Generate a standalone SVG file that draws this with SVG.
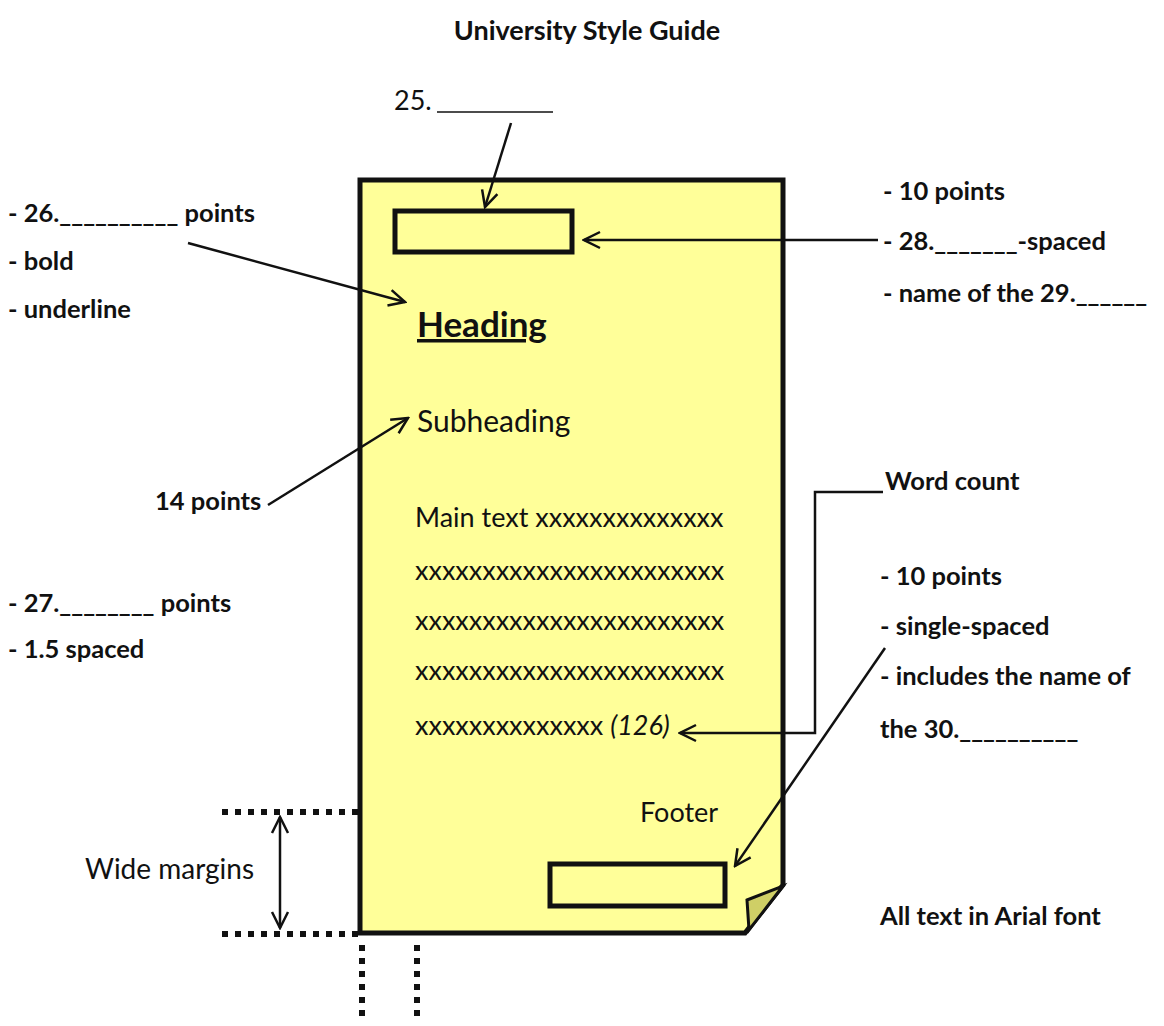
<svg xmlns="http://www.w3.org/2000/svg" width="1164" height="1026" viewBox="0 0 1164 1026">
<style>
text{font-family:Lato,"Open Sans","Liberation Sans",sans-serif;fill:#111}
.b{font-weight:bold;font-size:25.5px}
.n{font-size:27px}
.ln{stroke:#111;stroke-width:2.5;fill:none}
.box{fill:#ffff99;stroke:#111;stroke-width:5}
.dot{stroke:#111;stroke-width:6;stroke-dasharray:6 7;fill:none}
</style>
<defs>
<marker id="ah" viewBox="0 0 20 20" refX="18" refY="10" markerWidth="20" markerHeight="20" markerUnits="userSpaceOnUse" orient="auto-start-reverse">
<path d="M2,2 L18,10 L2,18" fill="none" stroke="#111" stroke-width="2.5"/>
</marker>
</defs>
<text x="587" y="40" text-anchor="middle" style="font-weight:bold;font-size:27px">University Style Guide</text>
<g id="page">
<path class="box" d="M360,180 H783 V885 L745,933 H360 Z"/>
<path d="M747,900 L783,886 L749,930 Z" fill="#cfcf66" stroke="#111" stroke-width="3"/>
</g>
<g id="header-box"><rect class="box" x="395" y="211" width="177" height="41"/></g>
<g id="footer-box"><rect class="box" x="550" y="864" width="175" height="42"/></g>
<g id="label-25"><text x="394" y="110" class="n">25.</text><line x1="437" y1="112" x2="553" y2="112" stroke="#111" stroke-width="1.5"/></g>
<g id="heading"><text x="417" y="337" style="font-weight:bold;font-size:35px;text-decoration:underline">Heading</text></g>
<g id="subheading"><text x="417" y="432" style="font-size:30px">Subheading</text></g>
<g id="main-text">
<text x="415" y="527" class="n">Main text xxxxxxxxxxxxxx</text>
<text x="415" y="580" class="n">xxxxxxxxxxxxxxxxxxxxxxx</text>
<text x="415" y="630" class="n">xxxxxxxxxxxxxxxxxxxxxxx</text>
<text x="415" y="680" class="n">xxxxxxxxxxxxxxxxxxxxxxx</text>
<text x="415" y="735" class="n">xxxxxxxxxxxxxx <tspan font-style="italic">(126)</tspan></text>
</g>
<g id="footer-label"><text x="640" y="822" class="n">Footer</text></g>
<g id="label-26">
<text x="8" y="222" class="b">- 26.__________ points</text>
<text x="8" y="270" class="b">- bold</text>
<text x="8" y="318" class="b">- underline</text>
</g>
<g id="label-28">
<text x="883" y="200" class="b">- 10 points</text>
<text x="883" y="250" class="b">- 28._______-spaced</text>
<text x="883" y="302" class="b">- name of the 29.______</text>
</g>
<g id="label-14"><text x="155" y="510" class="b">14 points</text></g>
<g id="label-wordcount"><text x="885" y="490" class="b">Word count</text></g>
<g id="label-27">
<text x="8" y="612" class="b">- 27.________ points</text>
<text x="8" y="658" class="b">-  1.5 spaced</text>
</g>
<g id="label-footer">
<text x="880" y="585" class="b">- 10 points</text>
<text x="880" y="635" class="b">- single-spaced</text>
<text x="880" y="685" class="b">- includes the name of</text>
<text x="880" y="738" class="b">the 30.__________</text>
</g>
<g id="label-arial"><text x="880" y="925" class="b">All text in Arial font</text></g>
<g id="label-margins"><text x="85" y="879" style="font-size:28px">Wide margins</text></g>
<g id="connectors">
<line class="ln" x1="511" y1="123" x2="485" y2="207" marker-end="url(#ah)"/>
<line class="ln" x1="878" y1="240" x2="584" y2="240" marker-end="url(#ah)"/>
<line class="ln" x1="188" y1="243" x2="405" y2="302" marker-end="url(#ah)"/>
<line class="ln" x1="268" y1="505" x2="408" y2="418" marker-end="url(#ah)"/>
<path class="ln" d="M883,492 H815 V733 H680" marker-end="url(#ah)"/>
<line class="ln" x1="885" y1="648" x2="735" y2="866" marker-end="url(#ah)"/>
<line class="ln" x1="280" y1="817" x2="280" y2="928" marker-start="url(#ah)" marker-end="url(#ah)"/>
<line class="dot" x1="222" y1="812" x2="360" y2="812"/>
<line class="dot" x1="222" y1="934" x2="360" y2="934"/>
<line class="dot" x1="362" y1="945" x2="362" y2="1022"/>
<line class="dot" x1="417" y1="945" x2="417" y2="1022"/>
</g>
</svg>
